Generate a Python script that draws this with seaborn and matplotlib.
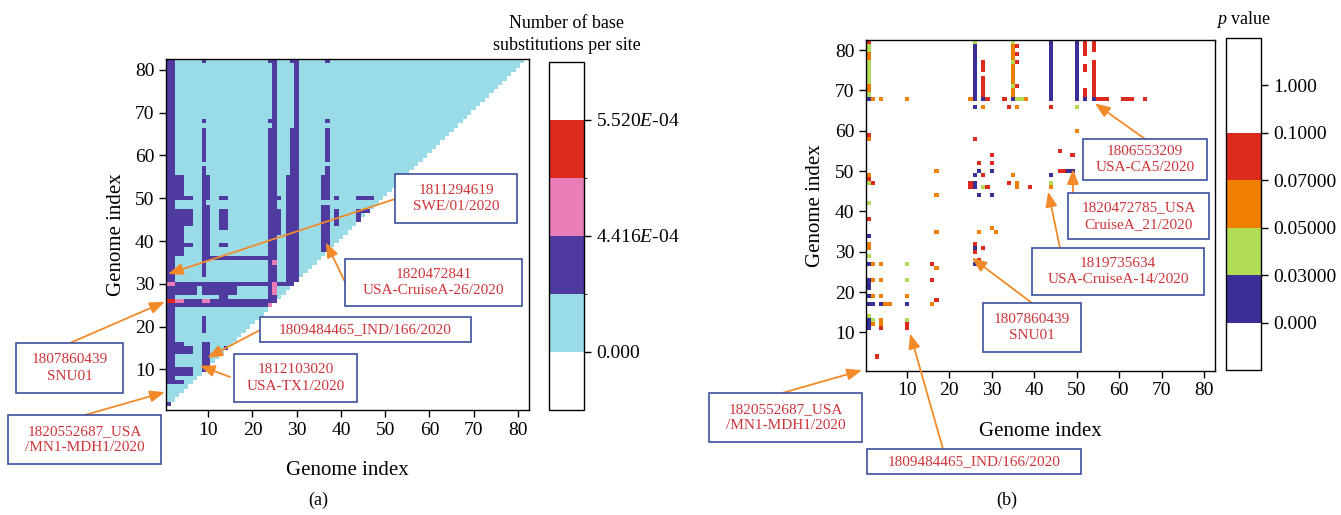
import numpy as np
import pandas as pd
import seaborn as sns
import matplotlib
matplotlib.use("Agg")
import matplotlib.pyplot as plt
from matplotlib.colors import ListedColormap, BoundaryNorm
from matplotlib.patches import Rectangle

plt.rcParams["font.family"] = ["Liberation Serif", "DejaVu Serif"]
plt.rcParams["mathtext.fontset"] = "custom"
plt.rcParams["mathtext.rm"] = "Liberation Serif"
plt.rcParams["mathtext.it"] = "Liberation Serif:italic"

N_GENOMES = 82
genome_index = list(range(1, N_GENOMES + 1))
axis_ticks = [10, 20, 30, 40, 50, 60, 70, 80]

# ---------------- (a) base substitutions per site ----------------
subst_bounds = [0.0, 2.208e-4, 4.416e-4, 4.968e-4, 5.520e-4]
subst_ticks = [0.0, 4.416e-4, 5.520e-4]
subst_ticklabels = ["0.000", "4.416$E$-04", "5.520$E$-04"]
subst_colors = ["#9adbe8", "#4f3ba0", "#e87db8", "#dc2b1d"]

subst_low = 1.1e-4     # all pairs (x < y) not listed below
subst_mid = 3.3e-4
subst_high = 4.7e-4
subst_top = 5.3e-4

# pairs at the "mid" level: (x_from, x_to, y_from, y_to)
subst_mid_blocks = [
    (1, 2, 7, 82), (1, 1, 2, 2), (1, 4, 7, 7), (1, 6, 9, 10), (1, 4, 14, 16), (5, 6, 14, 15),
    (9, 9, 10, 10), (9, 10, 11, 16), (14, 14, 15, 15), (9, 9, 19, 22),
    (1, 25, 25, 26), (1, 7, 28, 29), (9, 16, 28, 29), (24, 25, 27, 29), (3, 29, 30, 30),
    (13, 14, 26, 27),
    (24, 25, 31, 66), (28, 30, 31, 55), (29, 30, 56, 66), (30, 30, 67, 81), (29, 30, 82, 82),
    (9, 9, 32, 35), (9, 23, 36, 36), (1, 4, 37, 43), (5, 6, 39, 39), (13, 14, 39, 39),
    (9, 10, 37, 48), (1, 6, 44, 47), (13, 14, 43, 47), (24, 26, 42, 47),
    (1, 6, 50, 50), (9, 9, 49, 57), (9, 10, 50, 55), (13, 14, 50, 50), (24, 26, 50, 50),
    (1, 4, 51, 55), (9, 9, 59, 66), (9, 9, 68, 68), (9, 9, 82, 82),
    (25, 25, 67, 82), (24, 24, 68, 68), (24, 24, 82, 82),
    (36, 37, 38, 48), (36, 37, 50, 55), (37, 37, 56, 57), (37, 37, 59, 66), (37, 37, 68, 68),
    (37, 37, 82, 82), (39, 39, 44, 47), (39, 39, 50, 50),
    (44, 47, 50, 50), (44, 46, 47, 47), (44, 44, 45, 46),
]
subst_high_cells = [(1, 30), (2, 30), (25, 28), (25, 29), (25, 30), (25, 35),
                    (3, 26), (4, 26), (9, 26), (10, 26), (24, 25)]
subst_top_cells = [(1, 26), (2, 26)]

# ---------------- (b) p values ----------------
p_bounds = [0.0, 0.03, 0.05, 0.07, 0.1, 1.0]
p_ticklabels = ["0.000", "0.03000", "0.05000", "0.07000", "0.1000", "1.000"]
p_colors = ["#392f96", "#b1dc55", "#f07f00", "#dc2b1d", "#ffffff"]
p_levels = [0.015, 0.04, 0.06, 0.085]

# significant pairs as vertical runs: (x, y_from, y_to)
p_runs_below_003 = [
    (1, 68, 68), (1, 34, 34), (1, 27, 27), (1, 23, 23), (1, 21, 22), (1, 19, 19), (1, 17, 17),
    (1, 11, 13), (2, 17, 17), (4, 17, 17), (10, 17, 17),
    (26, 68, 81), (28, 68, 68), (35, 68, 68), (44, 68, 82), (50, 68, 82), (52, 68, 68), (54, 68, 68),
    (26, 66, 66), (26, 49, 49), (26, 46, 47), (27, 50, 50), (30, 50, 50), (27, 44, 44), (30, 44, 44),
    (44, 49, 49), (48, 50, 50), (49, 50, 50), (26, 31, 31), (26, 27, 27),
]
p_runs_below_005 = [
    (1, 80, 81), (1, 72, 77), (1, 69, 69), (1, 47, 47), (1, 42, 42), (1, 29, 29), (1, 14, 14),
    (2, 13, 13), (10, 27, 27), (10, 23, 23), (10, 13, 13),
    (26, 82, 82), (35, 82, 82), (35, 77, 77), (35, 71, 71), (36, 68, 68), (37, 68, 68), (50, 66, 66),
    (28, 46, 46), (44, 47, 47),
]
p_runs_below_007 = [
    (1, 78, 79), (1, 70, 71), (1, 58, 58), (1, 49, 49), (1, 31, 32),
    (2, 68, 68), (4, 68, 68), (10, 68, 68), (25, 68, 68), (38, 68, 68),
    (35, 78, 81), (35, 72, 76), (35, 69, 70),
    (28, 66, 66), (36, 66, 66), (50, 60, 60),
    (17, 50, 50), (17, 44, 44), (17, 35, 35), (27, 35, 35), (30, 36, 36), (31, 35, 35),
    (36, 46, 47), (44, 46, 46), (35, 49, 49),
    (2, 27, 27), (4, 27, 27), (17, 26, 26), (2, 23, 23), (4, 23, 23),
    (2, 19, 19), (4, 19, 19), (10, 19, 19), (5, 17, 17), (6, 17, 17), (16, 17, 17),
    (4, 12, 13), (2, 12, 12),
]
p_runs_below_010 = [
    (1, 82, 82), (1, 59, 59), (1, 48, 48), (1, 38, 38), (2, 47, 47),
    (28, 75, 77), (28, 69, 73), (29, 68, 68), (33, 68, 68),
    (36, 81, 81), (36, 79, 79), (36, 77, 77), (36, 71, 71),
    (52, 79, 82), (52, 75, 76), (52, 69, 70), (54, 80, 82), (54, 69, 77),
    (55, 68, 68), (56, 68, 68), (57, 68, 68), (61, 68, 68), (62, 68, 68), (63, 68, 68), (66, 68, 68),
    (34, 66, 66), (44, 66, 66),
    (26, 58, 58), (30, 54, 54), (27, 52, 52), (30, 52, 52), (46, 55, 55), (49, 54, 54),
    (46, 50, 50), (47, 50, 50), (28, 49, 49), (25, 46, 47), (29, 46, 46), (34, 47, 47), (39, 46, 46),
    (26, 32, 32), (26, 30, 30), (28, 31, 31), (27, 28, 28),
    (16, 27, 27), (16, 23, 23), (17, 18, 18), (10, 11, 12), (4, 11, 11), (3, 4, 4),
]

# ---------------- build the matrices ----------------
subst = np.full((N_GENOMES, N_GENOMES), np.nan)
for y in genome_index:
    for x in genome_index:
        if x < y:
            subst[y - 1, x - 1] = subst_low
for x0, x1, y0, y1 in subst_mid_blocks:
    for y in range(y0, y1 + 1):
        for x in range(x0, x1 + 1):
            if x < y:
                subst[y - 1, x - 1] = subst_mid
for x, y in subst_high_cells:
    subst[y - 1, x - 1] = subst_high
for x, y in subst_top_cells:
    subst[y - 1, x - 1] = subst_top
subst_df = pd.DataFrame(subst, index=genome_index, columns=genome_index)

pval = np.full((N_GENOMES, N_GENOMES), np.nan)
for runs, level in zip([p_runs_below_003, p_runs_below_005, p_runs_below_007, p_runs_below_010], p_levels):
    for x, y0, y1 in runs:
        for y in range(y0, y1 + 1):
            pval[y - 1, x - 1] = level
pval_df = pd.DataFrame(pval, index=genome_index, columns=genome_index)

# ---------------- figure ----------------
W, H = 1341, 515
fig = plt.figure(figsize=(W / 100, H / 100), dpi=100)


def rect(x0, y0, x1, y1):
    return [x0 / W, 1 - y1 / H, (x1 - x0) / W, (y1 - y0) / H]


ax_a = fig.add_axes(rect(166.2, 59.1, 528.9, 410.1))
cax_a = fig.add_axes(rect(549, 62, 584, 410))
ax_b = fig.add_axes(rect(866.3, 40.1, 1214.8, 370.6))
cax_b = fig.add_axes(rect(1226, 38, 1261, 370))

cmap_a = ListedColormap(subst_colors)
cmap_a.set_under("white")
cmap_a.set_over("white")
norm_a = BoundaryNorm(subst_bounds, cmap_a.N)
sns.heatmap(subst_df, ax=ax_a, cmap=cmap_a, norm=norm_a, cbar_ax=cax_a,
            cbar_kws=dict(extend="both", extendrect=True, extendfrac=0.25,
                          spacing="uniform", ticks=subst_ticks),
            xticklabels=False, yticklabels=False)

cmap_b = ListedColormap(p_colors)
cmap_b.set_under("white")
cmap_b.set_over("white")
norm_b = BoundaryNorm(p_bounds, cmap_b.N)
sns.heatmap(pval_df, ax=ax_b, cmap=cmap_b, norm=norm_b, cbar_ax=cax_b,
            cbar_kws=dict(extend="both", extendrect=True, extendfrac=0.2,
                          spacing="uniform", ticks=p_bounds),
            xticklabels=False, yticklabels=False)

for ax, cax, ticks, labels, ypad, xpad in [
    (ax_a, cax_a, subst_ticks, subst_ticklabels, 6, 16),
    (ax_b, cax_b, p_bounds, p_ticklabels, 7, 16),
]:
    ax.invert_yaxis()
    ax.set_xticks([t - 0.5 for t in axis_ticks], labels=[str(t) for t in axis_ticks])
    ax.set_yticks([t - 0.5 for t in axis_ticks], labels=[str(t) for t in axis_ticks], rotation=0)
    ax.tick_params(labelsize=14, length=5, width=1, direction="out", colors="black")
    for sp in ax.spines.values():
        sp.set_visible(True)
        sp.set_linewidth(1.0)
        sp.set_color("black")
    ax.set_xlabel("Genome index", fontsize=15, labelpad=xpad)
    ax.set_ylabel("Genome index", fontsize=15, labelpad=ypad)
    cb = ax.collections[0].colorbar
    cb.set_ticks(ticks, labels=labels)
    cb.ax.tick_params(labelsize=14, length=5, width=1)
    cb.outline.set_linewidth(1.0)
    cb.outline.set_edgecolor("black")

fig.text(566.5 / W, 1 - 54 / H, "Number of base\nsubstitutions per site",
         ha="center", va="bottom", fontsize=13, linespacing=1.35)
fig.text(1243.5 / W, 1 - 20 / H, "$p$ value", ha="center", va="center", fontsize=13)
fig.text(318 / W, 1 - 500 / H, "(a)", ha="center", va="center", fontsize=13)
fig.text(1007 / W, 1 - 500 / H, "(b)", ha="center", va="center", fontsize=13)

# ---------------- call-outs ----------------
BOX_EDGE = "#3b4f9f"
LABEL_RED = "#cf3438"
ARROW = "#f28a2a"

# (label, target genome (x, y), box in image px (x0, y0, x1, y1), arrow start px)
callouts_a = [
    ("1811294619\nSWE/01/2020", (0.9, 32.3), (395, 174, 517, 223), (395, 199)),
    ("1820472841\nUSA-CruiseA-26/2020", (36.6, 39.7), (345, 259, 522, 306), (345, 282)),
    ("1809484465_IND/166/2020", (9.8, 12.7), (260, 317, 471, 342), (260, 330)),
    ("1812103020\nUSA-TX1/2020", (8.1, 10.9), (234, 354, 357, 402), (230, 377)),
    ("1807860439\nSNU01", (0.2, 25.8), (16, 343, 123, 393), (70, 343)),
    ("1820552687_USA\n/MN1-MDH1/2020", (0.2, 4.7), (8, 415, 161, 464), (85, 415)),
]
callouts_b = [
    ("1806553209\nUSA-CA5/2020", (54.3, 66.8), (1083, 139, 1207, 180), (1145, 139)),
    ("1820472785_USA\nCruiseA_21/2020", (49.1, 50.5), (1068, 193, 1209, 239), (1073, 193)),
    ("1819735634\nUSA-CruiseA-14/2020", (43.3, 44.9), (1032, 248, 1204, 295), (1060, 248)),
    ("1807860439\nSNU01", (25.3, 28.5), (983, 303, 1081, 352), (1032, 303)),
    ("1820552687_USA\n/MN1-MDH1/2020", (-0.5, 0.6), (709, 393, 862, 442), (782, 393)),
    ("1809484465_IND/166/2020", (10.8, 9.7), (867, 449, 1081, 474), (943, 449)),
]

for ax, callouts in [(ax_a, callouts_a), (ax_b, callouts_b)]:
    for label, (gx, gy), (x0, y0, x1, y1), (sx, sy) in callouts:
        fig.add_artist(Rectangle((x0 / W, 1 - y1 / H), (x1 - x0) / W, (y1 - y0) / H,
                                 transform=fig.transFigure, facecolor="white",
                                 edgecolor=BOX_EDGE, linewidth=1.2, zorder=5))
        fig.text((x0 + x1) / 2 / W, 1 - (y0 + y1) / 2 / H, label, ha="center", va="center",
                 color=LABEL_RED, fontsize=11, linespacing=1.35, zorder=6)
        ax.annotate("", xy=(gx - 0.5, gy - 0.5), xycoords="data",
                    xytext=(sx, H - sy), textcoords="figure pixels",
                    arrowprops=dict(arrowstyle="-|>,head_length=0.9,head_width=0.35",
                                    color=ARROW, lw=1.3, shrinkA=0, shrinkB=0),
                    annotation_clip=False, zorder=4)

fig.savefig("out.png", dpi=100)
